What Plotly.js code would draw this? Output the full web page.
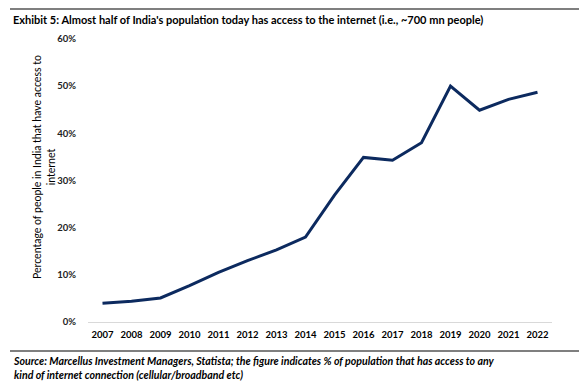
<!DOCTYPE html>
<html>
<head>
<meta charset="utf-8">
<script src="https://cdn.plot.ly/plotly-3.0.1.min.js"></script>
<style>html,body{margin:0;padding:0;background:#fff;}#chart{width:579px;height:391px;}</style>
</head>
<body>
<div id="chart"></div>
<script>
const years = ["2007","2008","2009","2010","2011","2012","2013","2014","2015","2016","2017","2018","2019","2020","2021","2022"];
const internetPct = [4.0, 4.4, 5.1, 7.7, 10.5, 13.0, 15.3, 18.0, 26.9, 34.9, 34.3, 38.0, 50.0, 44.9, 47.2, 48.7];
const yTickVals = [0, 10, 20, 30, 40, 50, 60];
const yTickText = ["0%", "10%", "20%", "30%", "40%", "50%", "60%"];

const titleText = "Exhibit 5: Almost half of India's population today has access to the internet (i.e., ~700 mn people)";
const yTitleText = "Percentage of people in India that have access to<br>internet";
const sourceText = "Source: Marcellus Investment Managers, Statista; the figure indicates % of population that has access to any<br>kind of internet connection (cellular/broadband etc)";

const L = 88, R = 27, T = 39, B = 69, W = 579, H = 391;
const pw = W - L - R, ph = H - T - B;
const px = x => (x - L) / pw;
const py = y => (H - B - y) / ph;

const FONT = "Lato, 'Liberation Sans', sans-serif";

const trace = {
  x: years, y: internetPct, type: 'scatter', mode: 'lines',
  line: {color: '#0c2a5f', width: 3},
  hoverinfo: 'skip'
};

const layout = {
  width: W, height: H,
  margin: {l: L, r: R, t: T, b: B, pad: 0},
  paper_bgcolor: '#ffffff', plot_bgcolor: '#ffffff',
  showlegend: false,
  font: {family: FONT, color: '#000'},
  xaxis: {
    type: 'category', range: [-0.5, years.length - 0.5], showgrid: false, zeroline: false,
    showline: true, linecolor: '#d9d9d9', linewidth: 1,
    ticks: 'outside', ticklen: 4, tickcolor: 'rgba(0,0,0,0)',
    tickfont: {family: FONT, size: 9.5, color: '#000', weight: 'bold'},
    fixedrange: true
  },
  yaxis: {
    range: [0, 60], tickvals: yTickVals, ticktext: yTickText,
    showgrid: false, zeroline: false, showline: false,
    ticks: 'outside', ticklen: 9, tickcolor: 'rgba(0,0,0,0)',
    tickfont: {family: FONT, size: 9.5, color: '#222', weight: 'bold'},
    fixedrange: true
  },
  shapes: [
    {type: 'line', xref: 'paper', yref: 'paper', x0: px(10), x1: px(579), y0: py(9), y1: py(9), line: {color: '#000', width: 1.2}},
    {type: 'line', xref: 'paper', yref: 'paper', x0: px(10), x1: px(579), y0: py(351), y1: py(351), line: {color: '#000', width: 1.2}}
  ],
  annotations: [
    {text: titleText, xref: 'paper', yref: 'paper', x: px(11), y: py(20), xanchor: 'left', yanchor: 'middle', showarrow: false,
     font: {family: FONT, size: 11, color: '#000', weight: 'bold'}},
    {text: yTitleText, xref: 'paper', yref: 'paper', x: px(44), y: py(167), xanchor: 'center', yanchor: 'middle', textangle: -90, showarrow: false,
     font: {family: FONT, size: 10.5, color: '#000'}},
    {text: sourceText, xref: 'paper', yref: 'paper', x: px(11), y: py(353), xanchor: 'left', yanchor: 'top', align: 'left', showarrow: false,
     font: {family: FONT, size: 10.6, color: '#000', weight: 'bold', style: 'italic'}}
  ]
};

Plotly.newPlot('chart', [trace], layout, {displayModeBar: false, staticPlot: true});
</script>
</body>
</html>
